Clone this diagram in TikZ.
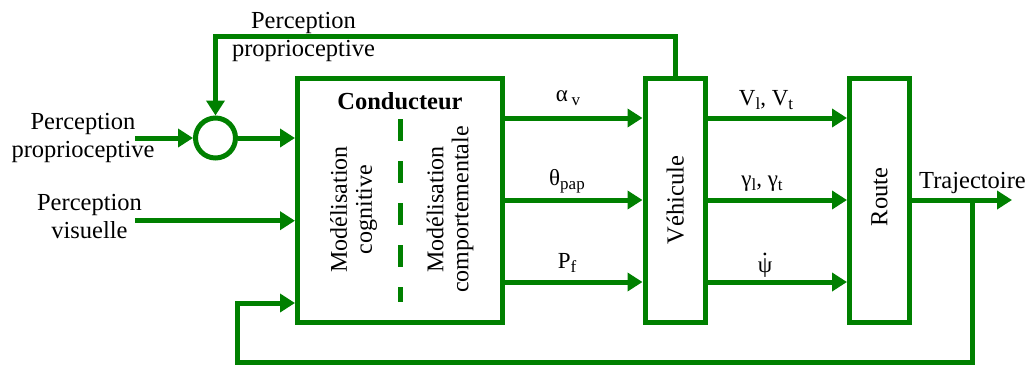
\documentclass[tikz,border=0pt]{standalone}
\usepackage{fontspec}
\setmainfont{Liberation Serif}
\usetikzlibrary{arrows.meta}
\definecolor{dg}{RGB}{0,128,0}
\newcommand\lsub[1]{\raisebox{-4pt}{\fontsize{17}{17}\selectfont #1}}
\newcommand\dpsi{\ooalign{ψ\cr\hidewidth\raisebox{0.72em}{.}\hidewidth\cr}}
\begin{document}
\begin{tikzpicture}[x=1pt,y=-1pt,
  blk/.style={draw=dg, line width=5pt, inner sep=0pt},
  wire/.style={draw=dg, line width=5pt},
  arr/.style={draw=dg, line width=5pt, -{Triangle[length=15pt,width=18pt]}},
  txt/.style={font=\fontsize{24.5}{28}\selectfont, align=center, inner sep=0pt},
  rtxt/.style={font=\fontsize{24}{25}\selectfont, align=center, inner sep=0pt, rotate=90},
  lab/.style={font=\fontsize{23}{24}\selectfont, inner sep=0pt, anchor=base}]
\useasboundingbox (0,0) rectangle (1031,365);
% blocks
\node[blk, minimum width=205pt, minimum height=244pt] (cond) at (400,200) {};
\node[blk, minimum width=60.5pt, minimum height=244pt] (veh) at (675.25,200) {};
\node[blk, minimum width=60pt, minimum height=244pt] (route) at (879.5,200) {};
\node[blk, circle, minimum size=40pt] (sum) at (215.5,138) {};
% block texts
\node[txt, font=\fontsize{24.5}{28}\selectfont\bfseries, anchor=base] (condtxt) at (400,109.3) {Conducteur};
\node[rtxt] (cog) at (353.5,209.5) {Modélisation\\cognitive};
\node[rtxt] (comp) at (450,209.5) {Modélisation\\comportementale};
\draw[wire, dash pattern=on 22pt off 20pt] (400,119.3) -- (400,302);
\node[txt, rotate=90] (vehtxt) at (veh.center) {Véhicule};
\node[txt, rotate=90] (routetxt) at (879.5,197) {Route};
% side texts
\node[txt] (pp1) at (303.5,36.6) {Perception\\proprioceptive};
\node[txt] (pp2) at (83,138.4) {Perception\\proprioceptive};
\node[txt] (pv) at (89.5,216.4) {Perception\\visuelle};
\node[txt, anchor=base] (traj) at (972.5,188) {Trajectoire};
% inputs
\coordinate (in1) at (135,138);
\coordinate (in2) at (135,220.7);
\coordinate (topy) at (0,36.7);
\draw[arr] (in1) -- (sum);
\draw[arr] (sum) -- (sum -| cond.west);
\draw[arr] (in2) -- (in2 -| cond.west);
\draw[arr] (veh.north) -- (veh.north |- topy) -| (sum.north);
% rows
\foreach \dy in {82,0,-82} {
  \draw[arr] ([yshift=\dy pt]cond.east) -- ([yshift=\dy pt]veh.west);
  \draw[arr] ([yshift=\dy pt]veh.east) -- ([yshift=\dy pt]route.west);
}
% labels
\node[lab] (la) at (568,101.7) {α\,\lsub{v}};
\node[lab] (lt) at (567,185) {θ\lsub{pap}};
\node[lab] (lp) at (567,268.3) {P\lsub{f}};
\node[lab] (lv) at (766,105) {V\lsub{l}, V\lsub{t}};
\node[lab] (lg) at (762,186.7) {γ\lsub{l}, γ\lsub{t}};
\node[lab] (lpsi) at (765,272) {\dpsi};
% output and feedback
\coordinate (out) at (1012,200);
\coordinate (fb) at (972,200);
\coordinate (fbc) at (237,362);
\draw[arr] (route.east) -- (out);
\draw[arr] (fb) |- (fbc) |- ([yshift=-103pt]cond.west);
\end{tikzpicture}
\end{document}
